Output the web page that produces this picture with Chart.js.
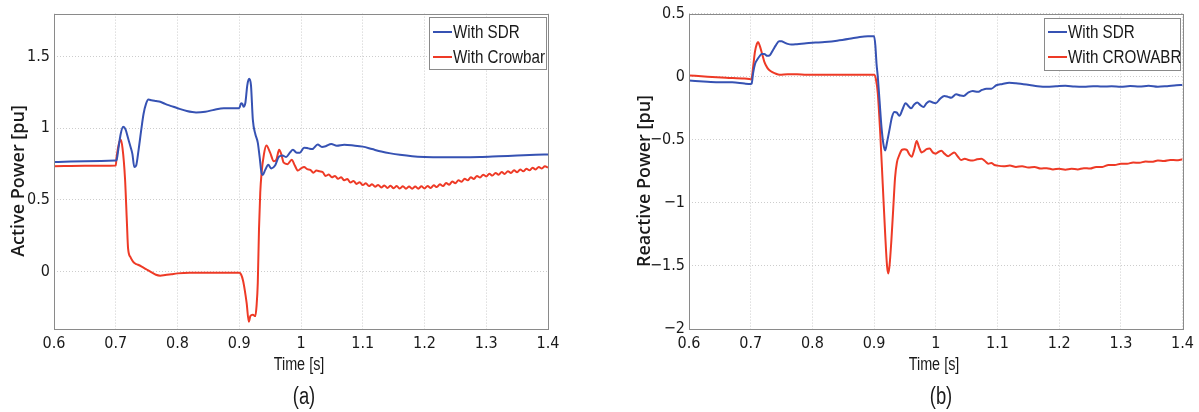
<!DOCTYPE html>
<html>
<head>
<meta charset="utf-8">
<script src="https://cdn.jsdelivr.net/npm/chart.js@4.4.0/dist/chart.umd.min.js"></script>
<style>
  html, body { margin: 0; padding: 0; background: #fff; }
  #wrap { position: relative; width: 1199px; height: 412px; }
  canvas { position: absolute; top: 0; }
  #chartA { left: 0; }
  #chartB { left: 600px; }
</style>
</head>
<body>
<div id="wrap">
  <canvas id="chartA" width="600" height="412"></canvas>
  <canvas id="chartB" width="599" height="412"></canvas>
</div>
<script>
// ---- data ----
const timeTicks = [0.6, 0.7, 0.8, 0.9, 1.0, 1.1, 1.2, 1.3, 1.4];
const activeTicks = [0, 0.5, 1, 1.5];
const reactiveTicks = [-2, -1.5, -1, -0.5, 0, 0.5];

// (a) active power, with SDR
const sdrActiveT = [0.600, 0.650, 0.700, 0.7014, 0.705, 0.708, 0.712, 0.716, 0.720, 0.724, 0.727, 0.730, 0.733, 0.737,
  0.741, 0.745, 0.749, 0.753, 0.758, 0.765, 0.772, 0.780, 0.790, 0.800, 0.815, 0.830, 0.845, 0.860, 0.875, 0.890,
  0.900, 0.903, 0.905, 0.907, 0.910, 0.913, 0.916, 0.919, 0.922, 0.926, 0.930, 0.933, 0.936, 0.938, 0.942, 0.947,
  0.952, 0.958, 0.964, 0.970, 0.976, 0.982, 0.987, 0.993, 0.998, 1.005, 1.012, 1.018, 1.027, 1.034, 1.040, 1.049,
  1.058, 1.070, 1.085, 1.100, 1.115, 1.130, 1.145, 1.160, 1.180, 1.200, 1.230, 1.260, 1.290, 1.320, 1.350, 1.380, 1.400];
const sdrActiveP = [0.765, 0.770, 0.775, 0.780, 0.880, 0.960, 1.010, 0.990, 0.930, 0.870, 0.820, 0.730, 0.740, 0.850,
  0.980, 1.100, 1.170, 1.200, 1.195, 1.190, 1.185, 1.170, 1.155, 1.140, 1.120, 1.110, 1.115, 1.130, 1.140, 1.140,
  1.140, 1.175, 1.170, 1.150, 1.180, 1.300, 1.345, 1.300, 1.060, 0.960, 0.900, 0.800, 0.690, 0.675, 0.710, 0.745,
  0.720, 0.740, 0.800, 0.810, 0.800, 0.830, 0.850, 0.830, 0.830, 0.865, 0.860, 0.855, 0.887, 0.870, 0.875, 0.890,
  0.878, 0.885, 0.880, 0.872, 0.855, 0.838, 0.825, 0.815, 0.805, 0.800, 0.798, 0.798, 0.800, 0.805, 0.810, 0.815, 0.818];

// (a) active power, with crowbar
const crowActiveT = [0.600, 0.650, 0.700, 0.7014, 0.705, 0.708, 0.711, 0.715, 0.718, 0.720, 0.724, 0.728, 0.732, 0.736,
  0.742, 0.750, 0.758, 0.765, 0.772, 0.780, 0.790, 0.800, 0.820, 0.850, 0.880, 0.900, 0.903, 0.906, 0.909, 0.912,
  0.9155, 0.918, 0.922, 0.926, 0.928, 0.930, 0.932, 0.934, 0.936, 0.940, 0.944, 0.950, 0.956, 0.960, 0.9646, 0.968,
  0.972, 0.978, 0.985, 0.990, 0.995,
  1.000, 1.005, 1.010, 1.015, 1.020, 1.025, 1.030, 1.035, 1.040, 1.045, 1.050, 1.055, 1.060, 1.065, 1.070, 1.075,
  1.080, 1.085, 1.090, 1.095, 1.100, 1.105, 1.110, 1.115, 1.120, 1.125, 1.130, 1.135, 1.140, 1.145, 1.150, 1.155,
  1.160, 1.165, 1.170, 1.175, 1.180, 1.185, 1.190, 1.195, 1.200, 1.205, 1.210, 1.215, 1.220, 1.225, 1.230, 1.235,
  1.240, 1.245, 1.250, 1.255, 1.260, 1.265, 1.270, 1.275, 1.280, 1.285, 1.290, 1.295, 1.300, 1.305, 1.310, 1.315,
  1.320, 1.325, 1.330, 1.335, 1.340, 1.345, 1.350, 1.355, 1.360, 1.365, 1.370, 1.375, 1.380, 1.385, 1.390, 1.395, 1.400];
const crowActiveP = [0.735, 0.738, 0.740, 0.800, 0.890, 0.920, 0.860, 0.650, 0.350, 0.160, 0.100, 0.070, 0.055, 0.048,
  0.035, 0.015, -0.005, -0.022, -0.028, -0.024, -0.018, -0.012, -0.008, -0.008, -0.008, -0.008, -0.020, -0.060, -0.130, -0.220,
  -0.350, -0.310, -0.300, -0.310, -0.240, -0.080, 0.300, 0.550, 0.680, 0.820, 0.880, 0.830, 0.770, 0.780, 0.850, 0.820,
  0.760, 0.750, 0.780, 0.740, 0.705,
  0.720, 0.730, 0.715, 0.710, 0.690, 0.705, 0.700, 0.695, 0.668, 0.677, 0.658, 0.668, 0.648, 0.658, 0.637, 0.646,
  0.622, 0.633, 0.612, 0.624, 0.604, 0.616, 0.597, 0.610, 0.592, 0.605, 0.587, 0.601, 0.584, 0.599, 0.582, 0.597,
  0.580, 0.596, 0.579, 0.594, 0.578, 0.594, 0.579, 0.595, 0.580, 0.598, 0.584, 0.603, 0.590, 0.609, 0.597, 0.618,
  0.607, 0.628, 0.617, 0.638, 0.627, 0.648, 0.637, 0.658, 0.647, 0.668, 0.657, 0.676, 0.664, 0.683, 0.670, 0.689,
  0.676, 0.695, 0.682, 0.701, 0.688, 0.707, 0.694, 0.713, 0.700, 0.718, 0.707, 0.724, 0.713, 0.730, 0.719, 0.735, 0.726];

// (b) reactive power, with SDR
const sdrReactT = [0.600, 0.630, 0.650, 0.670, 0.690, 0.700, 0.7015, 0.704, 0.707, 0.710, 0.714, 0.718, 0.722, 0.727,
  0.731, 0.736, 0.741, 0.746, 0.750, 0.755, 0.760, 0.766, 0.775, 0.790, 0.805, 0.820, 0.840, 0.860, 0.877, 0.890,
  0.900, 0.902, 0.904, 0.906, 0.909, 0.912, 0.915, 0.918, 0.921, 0.925, 0.929, 0.933, 0.937, 0.941, 0.946, 0.951,
  0.956, 0.960, 0.965, 0.970, 0.975, 0.980, 0.985, 0.990, 0.995, 1.000, 1.007, 1.014, 1.020, 1.025, 1.033, 1.040,
  1.045, 1.053, 1.060, 1.068, 1.075, 1.082, 1.090, 1.098, 1.108, 1.119, 1.130, 1.142, 1.152, 1.165, 1.180, 1.195,
  1.210, 1.225, 1.240, 1.255, 1.270, 1.285, 1.300, 1.315, 1.330, 1.345, 1.360, 1.375, 1.390, 1.400];
const sdrReactQ = [-0.030, -0.040, -0.045, -0.045, -0.055, -0.058, -0.055, 0.030, 0.100, 0.130, 0.160, 0.180, 0.180, 0.165,
  0.170, 0.210, 0.250, 0.280, 0.280, 0.270, 0.260, 0.255, 0.258, 0.265, 0.270, 0.275, 0.285, 0.300, 0.315, 0.320,
  0.320, 0.250, 0.100, 0.000, -0.200, -0.400, -0.530, -0.585, -0.520, -0.420, -0.320, -0.280, -0.285, -0.310, -0.260, -0.210,
  -0.235, -0.250, -0.220, -0.205, -0.225, -0.240, -0.210, -0.195, -0.205, -0.210, -0.175, -0.153, -0.160, -0.167, -0.140, -0.150,
  -0.153, -0.125, -0.114, -0.120, -0.105, -0.095, -0.095, -0.068, -0.058, -0.048, -0.052, -0.060, -0.066, -0.075, -0.080, -0.076,
  -0.072, -0.078, -0.080, -0.075, -0.078, -0.076, -0.080, -0.074, -0.078, -0.072, -0.080, -0.075, -0.068, -0.066];

// (b) reactive power, with crowbar
const crowReactT = [0.600, 0.630, 0.660, 0.690, 0.700, 0.7015, 0.704, 0.707, 0.710, 0.712, 0.715, 0.718, 0.722, 0.727,
  0.732, 0.740, 0.747, 0.760, 0.775, 0.790, 0.810, 0.850, 0.880, 0.900, 0.903, 0.906, 0.910, 0.914, 0.918, 0.921,
  0.923, 0.925, 0.928, 0.931, 0.934, 0.937, 0.941, 0.945, 0.949, 0.953, 0.957, 0.961, 0.965, 0.969, 0.973, 0.977,
  0.981, 0.985, 0.990, 0.995, 1.000, 1.005, 1.009, 1.014, 1.020, 1.025, 1.030, 1.036, 1.041, 1.047, 1.053, 1.060,
  1.067, 1.074, 1.080, 1.085, 1.090, 1.095, 1.100, 1.110, 1.120, 1.130, 1.140, 1.150, 1.160, 1.170, 1.180, 1.190,
  1.200, 1.210, 1.220, 1.230, 1.240, 1.250, 1.260, 1.270, 1.280, 1.290, 1.300, 1.310, 1.320, 1.330, 1.340, 1.350,
  1.360, 1.370, 1.380, 1.390, 1.400];
const crowReactQ = [0.010, 0.000, -0.008, -0.015, -0.020, -0.015, 0.080, 0.200, 0.260, 0.275, 0.240, 0.190, 0.120, 0.070,
  0.045, 0.025, 0.015, 0.020, 0.020, 0.015, 0.015, 0.015, 0.015, 0.015, -0.020, -0.130, -0.450, -0.850, -1.250, -1.500,
  -1.560, -1.500, -1.300, -1.050, -0.800, -0.680, -0.620, -0.580, -0.575, -0.580, -0.615, -0.635, -0.580, -0.510, -0.560, -0.600,
  -0.590, -0.575, -0.570, -0.600, -0.610, -0.595, -0.587, -0.610, -0.630, -0.615, -0.600, -0.635, -0.660, -0.650, -0.660, -0.665,
  -0.655, -0.650, -0.670, -0.690, -0.685, -0.700, -0.705, -0.710, -0.705, -0.715, -0.710, -0.720, -0.715, -0.728, -0.725, -0.735,
  -0.730, -0.737, -0.730, -0.735, -0.725, -0.728, -0.715, -0.715, -0.700, -0.700, -0.690, -0.690, -0.680, -0.683, -0.672, -0.675,
  -0.665, -0.668, -0.660, -0.662, -0.655];

// ---- styling ----
const BLUE = '#3652b3';
const RED = '#ee3a26';
const NARROW = '"Liberation Sans Narrow", "DejaVu Sans Condensed", sans-serif';
const LABEL_FONT = '600 18px "Open Sans", "Liberation Sans", sans-serif';

function pts(ts, vs) { return ts.map((t, i) => ({ x: t, y: vs[i] })); }
function fmt(v) { return String(Math.round(v * 10) / 10).replace('-', '\u2212'); }

// condensed text: Liberation Sans squeezed horizontally (Myriad-like look)
function narrowText(ctx, text, x, y, size, align) {
  ctx.save();
  ctx.font = size + 'px "Liberation Sans", sans-serif';
  ctx.textAlign = align;
  ctx.textBaseline = 'middle';
  ctx.translate(x, y);
  ctx.scale(0.8, 1);
  ctx.fillText(text, 0, 0);
  ctx.restore();
}

const panelPlugin = {
  id: 'panel',
  afterDraw(chart, args, o) {
    const { ctx, chartArea: a } = chart;
    ctx.save();
    // axes box
    ctx.strokeStyle = '#8a8a8a';
    ctx.lineWidth = 1;
    ctx.strokeRect(Math.round(a.left) + 0.5, Math.round(a.top) + 0.5, Math.round(a.right - a.left), Math.round(a.bottom - a.top));

    ctx.fillStyle = '#1a1a1a';
    ctx.textAlign = 'center';
    ctx.textBaseline = 'middle';
    // y title
    ctx.save();
    ctx.font = LABEL_FONT;
    ctx.translate(o.yTitleX, o.yTitleY);
    ctx.rotate(-Math.PI / 2);
    ctx.fillText(o.yTitle, 0, 0);
    ctx.restore();
    // x title + caption
    narrowText(ctx, 'Time [s]', o.xTitleX, o.xTitleY, 18, 'center');
    narrowText(ctx, o.caption, o.captionX, o.captionY, 23, 'center');

    // legend box
    const L = o.legend;
    ctx.fillStyle = '#fff';
    ctx.fillRect(L.x, L.y, L.w, L.h);
    ctx.strokeStyle = '#8a8a8a';
    ctx.lineWidth = 1;
    ctx.strokeRect(L.x + 0.5, L.y + 0.5, L.w, L.h);
    chart.data.datasets.forEach((ds, i) => {
      const yy = L.y + L.row0 + i * L.rowGap;
      ctx.strokeStyle = ds.borderColor;
      ctx.lineWidth = 2;
      ctx.beginPath();
      ctx.moveTo(L.x + 4, yy);
      ctx.lineTo(L.x + 4 + L.sample, yy);
      ctx.stroke();
      ctx.fillStyle = '#1a1a1a';
      narrowText(ctx, ds.label, L.x + 5 + L.sample, yy + 1, 19, 'left');
    });
    ctx.restore();
  }
};

function makeChart(id, sets, yMin, yMax, yTicks, yAxisWidth, padRight, panel) {
  return new Chart(document.getElementById(id), {
    type: 'line',
    data: {
      datasets: sets.map(s => ({
        label: s.label,
        data: s.data,
        borderColor: s.color,
        backgroundColor: s.color,
        borderWidth: 2,
        pointRadius: 0,
        cubicInterpolationMode: 'monotone',
        fill: false
      }))
    },
    options: {
      responsive: false,
      animation: false,
      layout: { padding: { top: 13, right: padRight, left: 0, bottom: 0 } },
      scales: {
        x: {
          type: 'linear', min: 0.6, max: 1.4,
          afterBuildTicks: s => { s.ticks = timeTicks.map(v => ({ value: v })); },
          afterFit: s => { s.height = 83; },
          grid: { color: '#cdcdcd', lineWidth: 1, drawTicks: false },
          border: { display: false, dash: [1, 2] },
          ticks: { padding: 5, color: '#1a1a1a', maxRotation: 0, autoSkip: false,
                   font: { family: NARROW, size: 16 }, callback: v => fmt(v) }
        },
        y: {
          type: 'linear', min: yMin, max: yMax,
          afterBuildTicks: s => { s.ticks = yTicks.map(v => ({ value: v })); },
          afterFit: s => { s.width = yAxisWidth; },
          grid: { color: '#cdcdcd', lineWidth: 1, drawTicks: false },
          border: { display: false, dash: [1, 2] },
          ticks: { padding: 4, color: '#1a1a1a', autoSkip: false,
                   font: { family: NARROW, size: 16 }, callback: v => fmt(v) }
        }
      },
      plugins: {
        legend: { display: false },
        tooltip: { enabled: false },
        panel: panel
      }
    },
    plugins: [panelPlugin]
  });
}

makeChart('chartA', [
  { label: 'With SDR', data: pts(sdrActiveT, sdrActiveP), color: BLUE },
  { label: 'With Crowbar', data: pts(crowActiveT, crowActiveP), color: RED }
], -0.4, 1.8, activeTicks, 54, 52, {
  yTitle: 'Active Power [pu]', yTitleX: 19, yTitleY: 181,
  xTitleX: 299, xTitleY: 365, caption: '(a)', captionX: 304, captionY: 398,
  legend: { x: 429, y: 17, w: 117, h: 52, row0: 15, rowGap: 25, sample: 19 }
});

makeChart('chartB', [
  { label: 'With SDR', data: pts(sdrReactT, sdrReactQ), color: BLUE },
  { label: 'With CROWABR', data: pts(crowReactT, crowReactQ), color: RED }
], -2, 0.5, reactiveTicks, 89, 16, {
  yTitle: 'Reactive Power [pu]', yTitleX: 45, yTitleY: 181,
  xTitleX: 334, xTitleY: 365, caption: '(b)', captionX: 341, captionY: 398,
  legend: { x: 444, y: 18, w: 136, h: 52, row0: 14, rowGap: 25, sample: 19 }
});
</script>
</body>
</html>
